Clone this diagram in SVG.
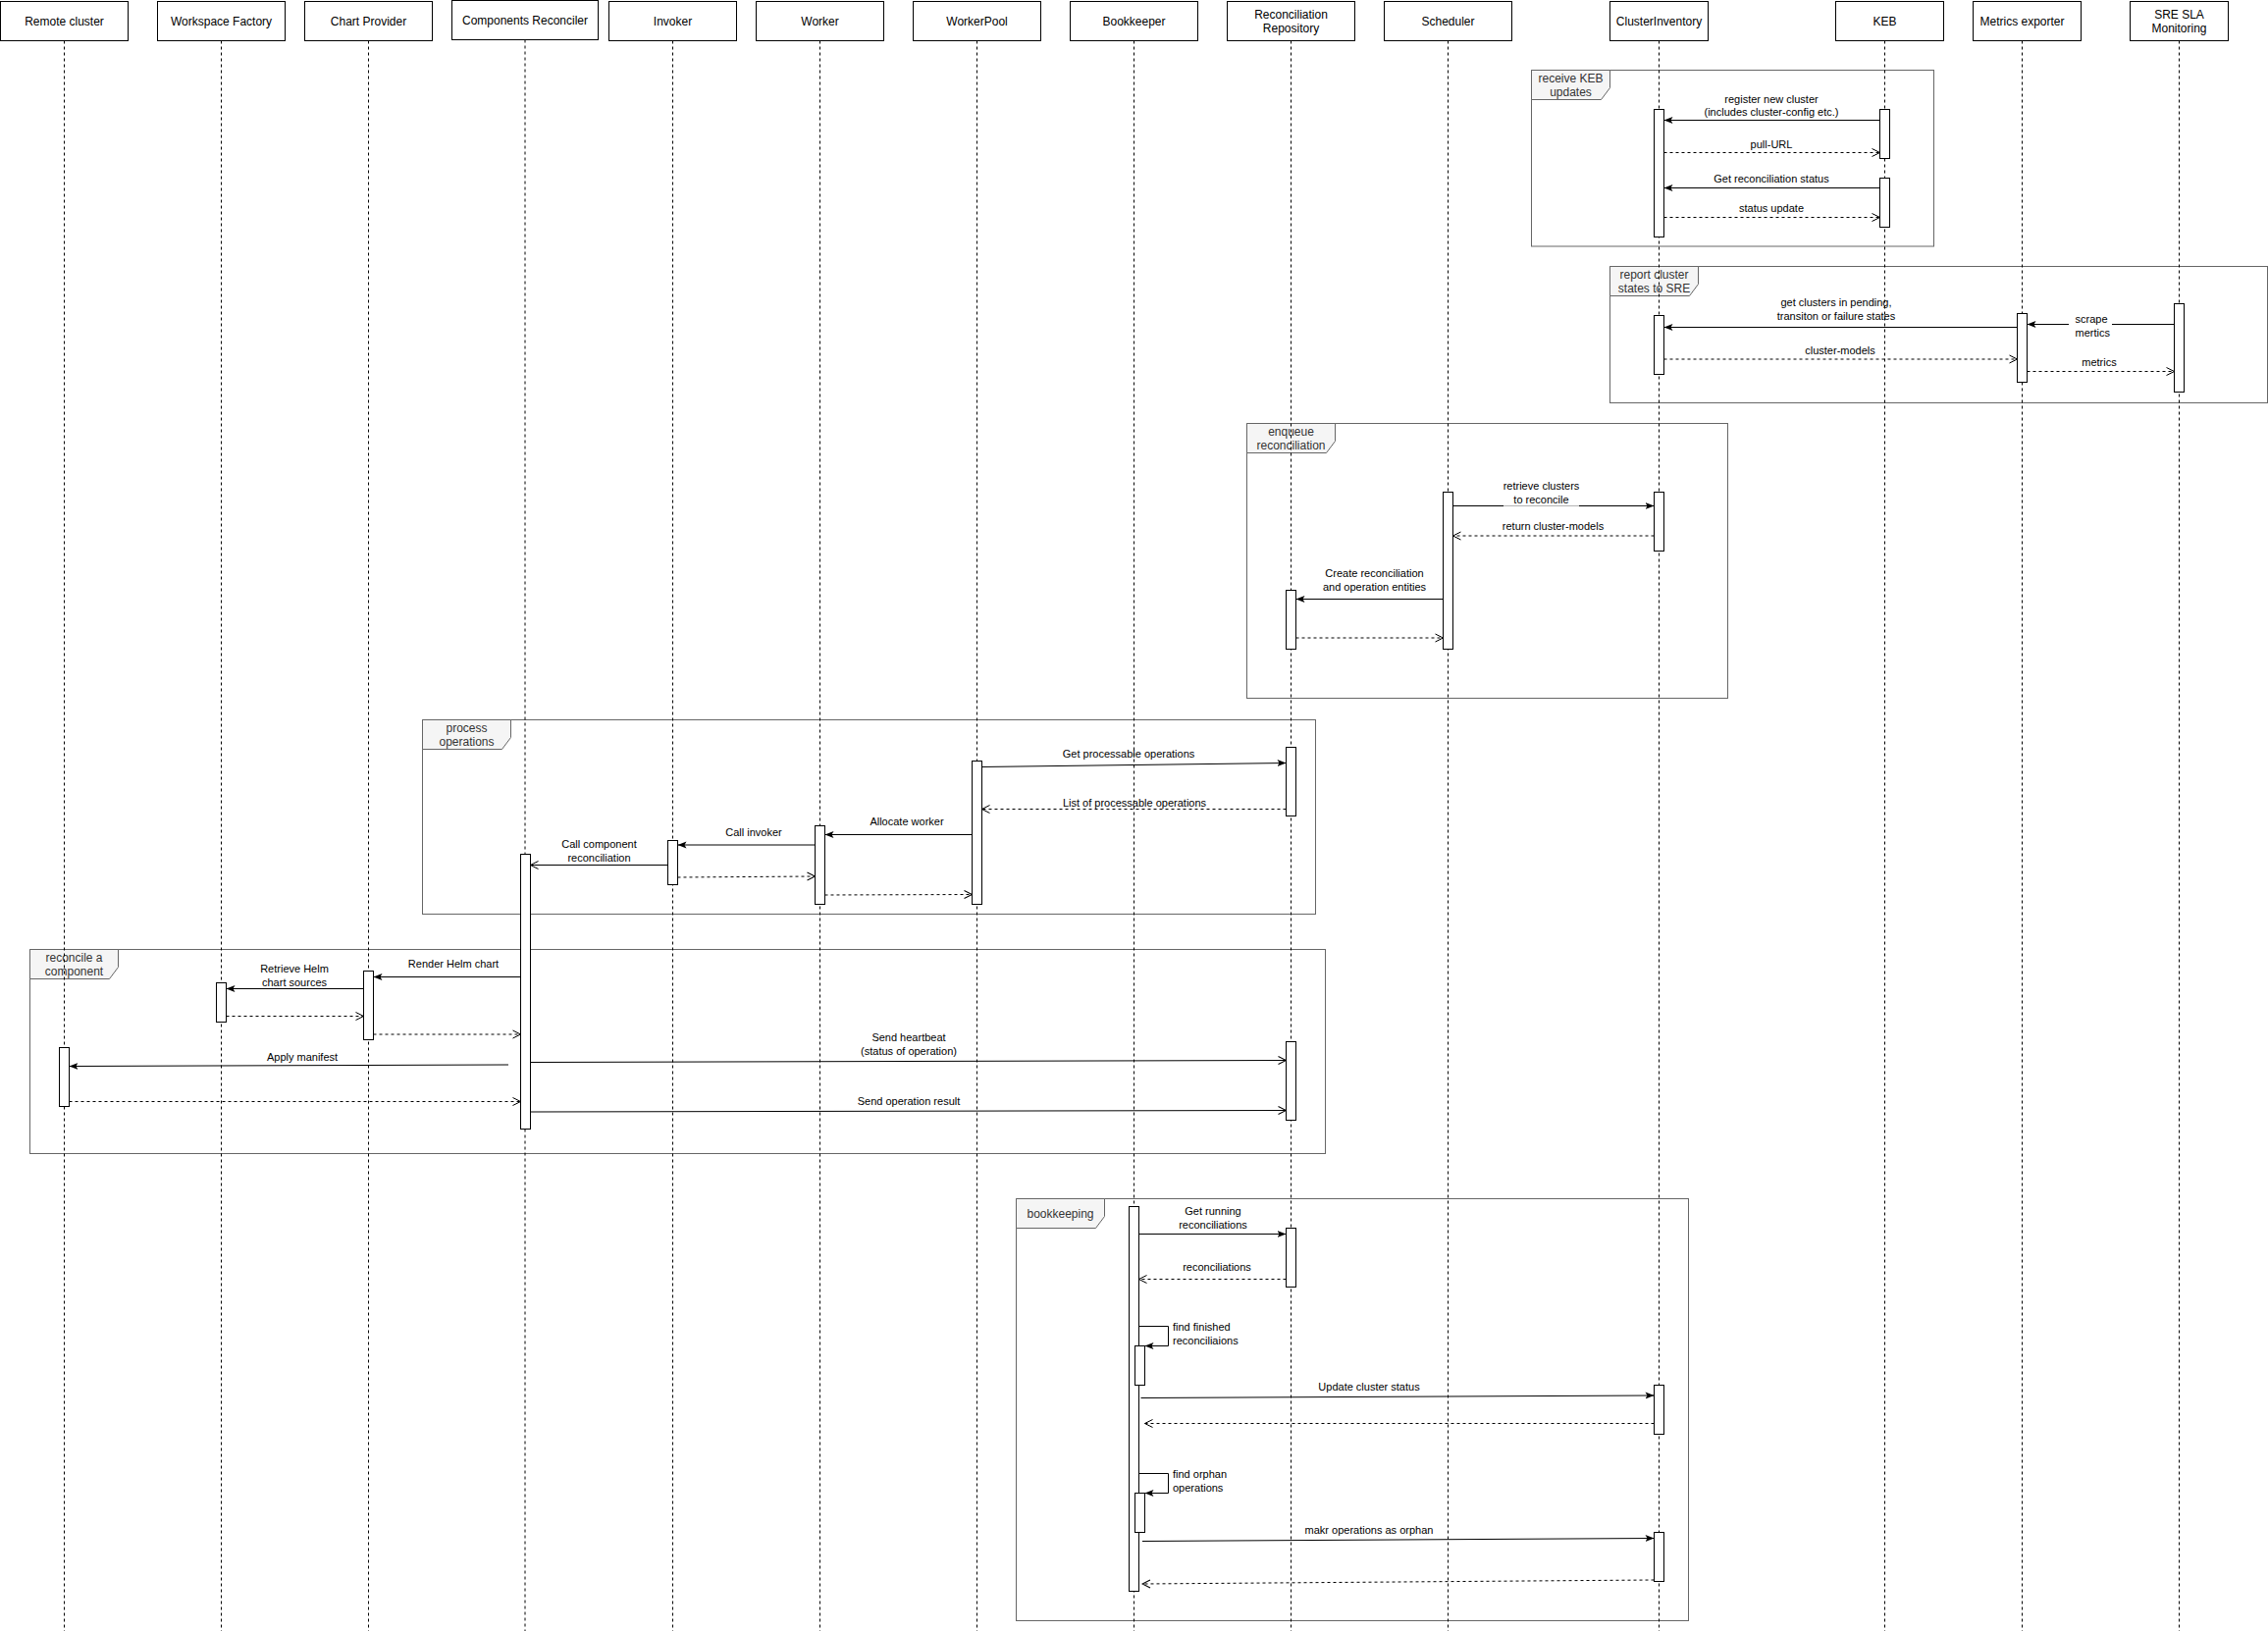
<svg xmlns="http://www.w3.org/2000/svg" width="2311" height="1662" viewBox="0 0 2311 1662">
<style>
text{font-family:"Liberation Sans",Arial,Helvetica,sans-serif;fill:#000}
.hd{font-size:12px;text-anchor:middle}
.lb{font-size:11px;text-anchor:middle}
.ls{font-size:11px;text-anchor:start}
.ft{font-size:12px;text-anchor:middle;fill:#333}
.box{fill:#fff;stroke:#000;stroke-width:1}
.life{stroke:#000;stroke-width:1;stroke-dasharray:3 3;fill:none}
.act{fill:#fff;stroke:#000;stroke-width:1}
.frame{fill:none;stroke:#666;stroke-width:1}
.tab{fill:#f5f5f5;stroke:#666;stroke-width:1}
.msg{stroke:#000;stroke-width:1;fill:none;marker-end:url(#block)}
.msgo{stroke:#000;stroke-width:1;fill:none;marker-end:url(#open)}
.ret{stroke:#000;stroke-width:1;fill:none;stroke-dasharray:3 3;marker-end:url(#open)}
</style>
<defs>
<marker id="block" markerWidth="10" markerHeight="8" refX="9" refY="4" orient="auto" markerUnits="userSpaceOnUse"><path d="M0,0.5 L9,4 L0,7.5 L2,4 Z" fill="#000" stroke="none"/></marker>
<marker id="open" markerWidth="10" markerHeight="10" refX="9" refY="5" orient="auto" markerUnits="userSpaceOnUse"><path d="M1,1 L9,5 L1,9" fill="none" stroke="#000" stroke-width="1" stroke-dasharray="none"/></marker>
</defs>
<rect width="2311" height="1662" fill="#fff"/>

<g id="frames">
<g id="frame-keb">
<rect class="frame" x="1560.5" y="71.5" width="410" height="179.5"/>
<path class="tab" d="M1560.5,71.5 H1640.5 V89.5 L1631.5,101.5 H1560.5 Z"/>
<text class="ft" x="1600.5" y="83.5">receive KEB</text>
<text class="ft" x="1600.5" y="98">updates</text>
</g>
<g id="frame-sre">
<rect class="frame" x="1640.5" y="271.5" width="670" height="139"/>
<path class="tab" d="M1640.5,271.5 H1730.5 V289.5 L1721.5,301.5 H1640.5 Z"/>
<text class="ft" x="1685.5" y="283.5">report cluster</text>
<text class="ft" x="1685.5" y="298">states to SRE</text>
</g>
<g id="frame-enqueue">
<rect class="frame" x="1270.5" y="431.5" width="490" height="280"/>
<path class="tab" d="M1270.5,431.5 H1360.5 V449.5 L1351.5,461.5 H1270.5 Z"/>
<text class="ft" x="1315.5" y="443.5">enqueue</text>
<text class="ft" x="1315.5" y="458">reconciliation</text>
</g>
<g id="frame-process">
<rect class="frame" x="430.5" y="733.5" width="910" height="198"/>
<path class="tab" d="M430.5,733.5 H520.5 V751.5 L511.5,763.5 H430.5 Z"/>
<text class="ft" x="475.5" y="745.5">process</text>
<text class="ft" x="475.5" y="760">operations</text>
</g>
<g id="frame-reconcile">
<rect class="frame" x="30.5" y="967.5" width="1320" height="208"/>
<path class="tab" d="M30.5,967.5 H120.5 V985.5 L111.5,997.5 H30.5 Z"/>
<text class="ft" x="75.5" y="979.5">reconcile a</text>
<text class="ft" x="75.5" y="994">component</text>
</g>
<g id="frame-bookkeeping">
<rect class="frame" x="1035.5" y="1221.5" width="685" height="430"/>
<path class="tab" d="M1035.5,1221.5 H1125.5 V1239.5 L1116.5,1251.5 H1035.5 Z"/>
<text class="ft" x="1080.5" y="1241">bookkeeping</text>
</g>
</g>

<g id="lifelines">
<line class="life" x1="65.5" y1="41.5" x2="65.5" y2="1662"/>
<line class="life" x1="225.5" y1="41.5" x2="225.5" y2="1662"/>
<line class="life" x1="375.5" y1="41.5" x2="375.5" y2="1662"/>
<line class="life" x1="535" y1="40.5" x2="535" y2="1662"/>
<line class="life" x1="685.5" y1="41.5" x2="685.5" y2="1662"/>
<line class="life" x1="835.5" y1="41.5" x2="835.5" y2="1662"/>
<line class="life" x1="995.5" y1="41.5" x2="995.5" y2="1662"/>
<line class="life" x1="1155.5" y1="41.5" x2="1155.5" y2="1662"/>
<line class="life" x1="1315.5" y1="41.5" x2="1315.5" y2="1662"/>
<line class="life" x1="1475.5" y1="41.5" x2="1475.5" y2="1662"/>
<line class="life" x1="1690.5" y1="41.5" x2="1690.5" y2="1662"/>
<line class="life" x1="1920.5" y1="41.5" x2="1920.5" y2="1662"/>
<line class="life" x1="2060.5" y1="41.5" x2="2060.5" y2="1662"/>
<line class="life" x1="2220.5" y1="41.5" x2="2220.5" y2="1662"/>
</g>

<g id="node-remote-cluster">
<rect class="box" x="0.5" y="1.5" width="130" height="40"/>
<text class="hd" x="65.5" y="25.5">Remote cluster</text>
<rect class="act" x="60.5" y="1067.5" width="10" height="60"/>
</g>
<g id="node-workspace-factory">
<rect class="box" x="160.5" y="1.5" width="130" height="40"/>
<text class="hd" x="225.5" y="25.5">Workspace Factory</text>
<rect class="act" x="220.5" y="1001.5" width="10" height="40"/>
</g>
<g id="node-chart-provider">
<rect class="box" x="310.5" y="1.5" width="130" height="40"/>
<text class="hd" x="375.5" y="25.5">Chart Provider</text>
<rect class="act" x="370.5" y="989.5" width="10" height="70"/>
</g>
<g id="node-components-reconciler">
<rect class="box" x="460.5" y="0.5" width="149" height="40"/>
<text class="hd" x="535" y="24.5">Components Reconciler</text>
<rect class="act" x="530.5" y="870.5" width="10" height="280"/>
</g>
<g id="node-invoker">
<rect class="box" x="620.5" y="1.5" width="130" height="40"/>
<text class="hd" x="685.5" y="25.5">Invoker</text>
<rect class="act" x="680.5" y="856.5" width="10" height="45"/>
</g>
<g id="node-worker">
<rect class="box" x="770.5" y="1.5" width="130" height="40"/>
<text class="hd" x="835.5" y="25.5">Worker</text>
<rect class="act" x="830.5" y="841.5" width="10" height="80"/>
</g>
<g id="node-workerpool">
<rect class="box" x="930.5" y="1.5" width="130" height="40"/>
<text class="hd" x="995.5" y="25.5">WorkerPool</text>
<rect class="act" x="990.5" y="775.5" width="10" height="146"/>
</g>
<g id="node-bookkeeper">
<rect class="box" x="1090.5" y="1.5" width="130" height="40"/>
<text class="hd" x="1155.5" y="25.5">Bookkeeper</text>
<rect class="act" x="1150.5" y="1229.5" width="10" height="392"/>
<rect class="act" x="1156.5" y="1371.5" width="10" height="40"/>
<rect class="act" x="1156.5" y="1521.5" width="10" height="40"/>
</g>
<g id="node-reconciliation-repository">
<rect class="box" x="1250.5" y="1.5" width="130" height="40"/>
<text class="hd" x="1315.5" y="18.5">Reconciliation</text>
<text class="hd" x="1315.5" y="33">Repository</text>
<rect class="act" x="1310.5" y="601.5" width="10" height="60"/>
<rect class="act" x="1310.5" y="761.5" width="10" height="70"/>
<rect class="act" x="1310.5" y="1061.5" width="10" height="80"/>
<rect class="act" x="1310.5" y="1251.5" width="10" height="60"/>
</g>
<g id="node-scheduler">
<rect class="box" x="1410.5" y="1.5" width="130" height="40"/>
<text class="hd" x="1475.5" y="25.5">Scheduler</text>
<rect class="act" x="1470.5" y="501.5" width="10" height="160"/>
</g>
<g id="node-clusterinventory">
<rect class="box" x="1640.5" y="1.5" width="100" height="40"/>
<text class="hd" x="1690.5" y="25.5">ClusterInventory</text>
<rect class="act" x="1685.5" y="111.5" width="10" height="130"/>
<rect class="act" x="1685.5" y="321.5" width="10" height="60"/>
<rect class="act" x="1685.5" y="501.5" width="10" height="60"/>
<rect class="act" x="1685.5" y="1411.5" width="10" height="50"/>
<rect class="act" x="1685.5" y="1561.5" width="10" height="50"/>
</g>
<g id="node-keb">
<rect class="box" x="1870.5" y="1.5" width="110" height="40"/>
<text class="hd" x="1920.5" y="25.5">KEB</text>
<rect class="act" x="1915.5" y="111.5" width="10" height="50"/>
<rect class="act" x="1915.5" y="181.5" width="10" height="50"/>
</g>
<g id="node-metrics-exporter">
<rect class="box" x="2010.5" y="1.5" width="110" height="40"/>
<text class="hd" x="2060.5" y="25.5">Metrics exporter</text>
<rect class="act" x="2055.5" y="319.5" width="10" height="70"/>
</g>
<g id="node-sre-sla-monitoring">
<rect class="box" x="2170.5" y="1.5" width="100" height="40"/>
<text class="hd" x="2220.5" y="18.5">SRE SLA</text>
<text class="hd" x="2220.5" y="33">Monitoring</text>
<rect class="act" x="2215.5" y="309.5" width="10" height="90"/>
</g>

<g id="connectors">
<line class="msg" x1="1915.5" y1="122.5" x2="1695.5" y2="122.5"/>
<text class="lb" x="1805" y="104.5">register new cluster</text>
<text class="lb" x="1805" y="117.5">(includes cluster-config etc.)</text>
<line class="ret" x1="1695.5" y1="155.5" x2="1915.5" y2="155.5"/>
<text class="lb" x="1805" y="150.5">pull-URL</text>
<line class="msg" x1="1915.5" y1="191.5" x2="1695.5" y2="191.5"/>
<text class="lb" x="1805" y="186">Get reconciliation status</text>
<line class="ret" x1="1695.5" y1="221.5" x2="1915.5" y2="221.5"/>
<text class="lb" x="1805" y="216">status update</text>

<line class="msg" x1="2055.5" y1="333.5" x2="1695.5" y2="333.5"/>
<text class="lb" x="1871" y="312">get clusters in pending,</text>
<text class="lb" x="1871" y="325.5">transiton or failure states</text>
<line class="msg" x1="2215.5" y1="330.5" x2="2065.5" y2="330.5"/>
<rect x="2108" y="319" width="44" height="27" fill="#fff"/>
<text class="ls" x="2114.5" y="329">scrape</text>
<text class="ls" x="2114.5" y="342.5">mertics</text>
<line class="ret" x1="1695.5" y1="366" x2="2055.5" y2="366"/>
<text class="lb" x="1875" y="361">cluster-models</text>
<line class="ret" x1="2065.5" y1="378.5" x2="2215.5" y2="378.5"/>
<text class="lb" x="2139" y="373">metrics</text>

<line class="msg" x1="1480.5" y1="515.5" x2="1685.5" y2="515.5"/>
<rect x="1532" y="490" width="77" height="27" fill="#fff" fill-opacity="0.7"/>
<text class="lb" x="1570.5" y="499">retrieve clusters</text>
<text class="lb" x="1570.5" y="513">to reconcile</text>
<line class="ret" x1="1685.5" y1="546" x2="1480.5" y2="546"/>
<text class="lb" x="1582.5" y="540">return cluster-models</text>
<line class="msg" x1="1470.5" y1="610.5" x2="1320.5" y2="610.5"/>
<text class="lb" x="1400.5" y="588">Create reconciliation</text>
<text class="lb" x="1400.5" y="602">and operation entities</text>
<line class="ret" x1="1320.5" y1="650" x2="1470.5" y2="650"/>

<line class="msg" x1="1000.5" y1="781.5" x2="1310.5" y2="777.5"/>
<text class="lb" x="1150" y="772">Get processable operations</text>
<line class="ret" x1="1310.5" y1="824.5" x2="1000.5" y2="824.5"/>
<text class="lb" x="1156" y="821.5">List of processable operations</text>
<line class="msg" x1="990.5" y1="850.5" x2="840.5" y2="850.5"/>
<text class="lb" x="924" y="840.5">Allocate worker</text>
<line class="msg" x1="830.5" y1="861" x2="690.5" y2="861"/>
<text class="lb" x="768" y="852">Call invoker</text>
<line class="msgo" x1="680.5" y1="881.5" x2="540.5" y2="881.5"/>
<text class="lb" x="610.5" y="864">Call component</text>
<text class="lb" x="610.5" y="878">reconciliation</text>
<line class="ret" x1="690.5" y1="894" x2="830.5" y2="893"/>
<line class="ret" x1="840.5" y1="912" x2="990.5" y2="911.5"/>

<line class="msg" x1="530.5" y1="995.5" x2="380.5" y2="995.5"/>
<text class="lb" x="462" y="985.5">Render Helm chart</text>
<line class="msg" x1="370.5" y1="1007.5" x2="230.5" y2="1007.5"/>
<text class="lb" x="300" y="990.5">Retrieve Helm</text>
<text class="lb" x="300" y="1005">chart sources</text>
<line class="ret" x1="230.5" y1="1035.5" x2="370.5" y2="1035.5"/>
<line class="ret" x1="380.5" y1="1054" x2="530.5" y2="1054"/>
<line class="msg" x1="518" y1="1085" x2="70.5" y2="1086.5"/>
<text class="lb" x="308" y="1080.5">Apply manifest</text>
<line class="msgo" x1="540.5" y1="1082.5" x2="1310.5" y2="1080.5"/>
<text class="lb" x="926" y="1060.5">Send heartbeat</text>
<text class="lb" x="926" y="1075">(status of operation)</text>
<line class="ret" x1="70.5" y1="1122.5" x2="530.5" y2="1122.5"/>
<line class="msgo" x1="540.5" y1="1133" x2="1310.5" y2="1131.5"/>
<text class="lb" x="926" y="1125.5">Send operation result</text>

<line class="msg" x1="1160.5" y1="1257.5" x2="1310.5" y2="1257.5"/>
<text class="lb" x="1236" y="1238">Get running</text>
<text class="lb" x="1236" y="1252">reconciliations</text>
<line class="ret" x1="1310.5" y1="1303.5" x2="1160.5" y2="1303.5"/>
<text class="lb" x="1240" y="1295">reconciliations</text>
<path class="msg" d="M1160.5,1351.5 H1190.5 V1371.5 H1166.5"/>
<text class="ls" x="1195" y="1356">find finished</text>
<text class="ls" x="1195" y="1370">reconciliaions</text>
<line class="msg" x1="1162.5" y1="1424.5" x2="1685.5" y2="1422"/>
<text class="lb" x="1395" y="1417">Update cluster status</text>
<line class="ret" x1="1685.5" y1="1450.5" x2="1166.5" y2="1450.5"/>
<path class="msg" d="M1160.5,1501.5 H1190.5 V1521.5 H1166.5"/>
<text class="ls" x="1195" y="1506">find orphan</text>
<text class="ls" x="1195" y="1520">operations</text>
<line class="msg" x1="1164" y1="1570.5" x2="1685.5" y2="1567.5"/>
<text class="lb" x="1395" y="1563">makr operations as orphan</text>
<line class="ret" x1="1685.5" y1="1610" x2="1164" y2="1614"/>
</g>
</svg>
